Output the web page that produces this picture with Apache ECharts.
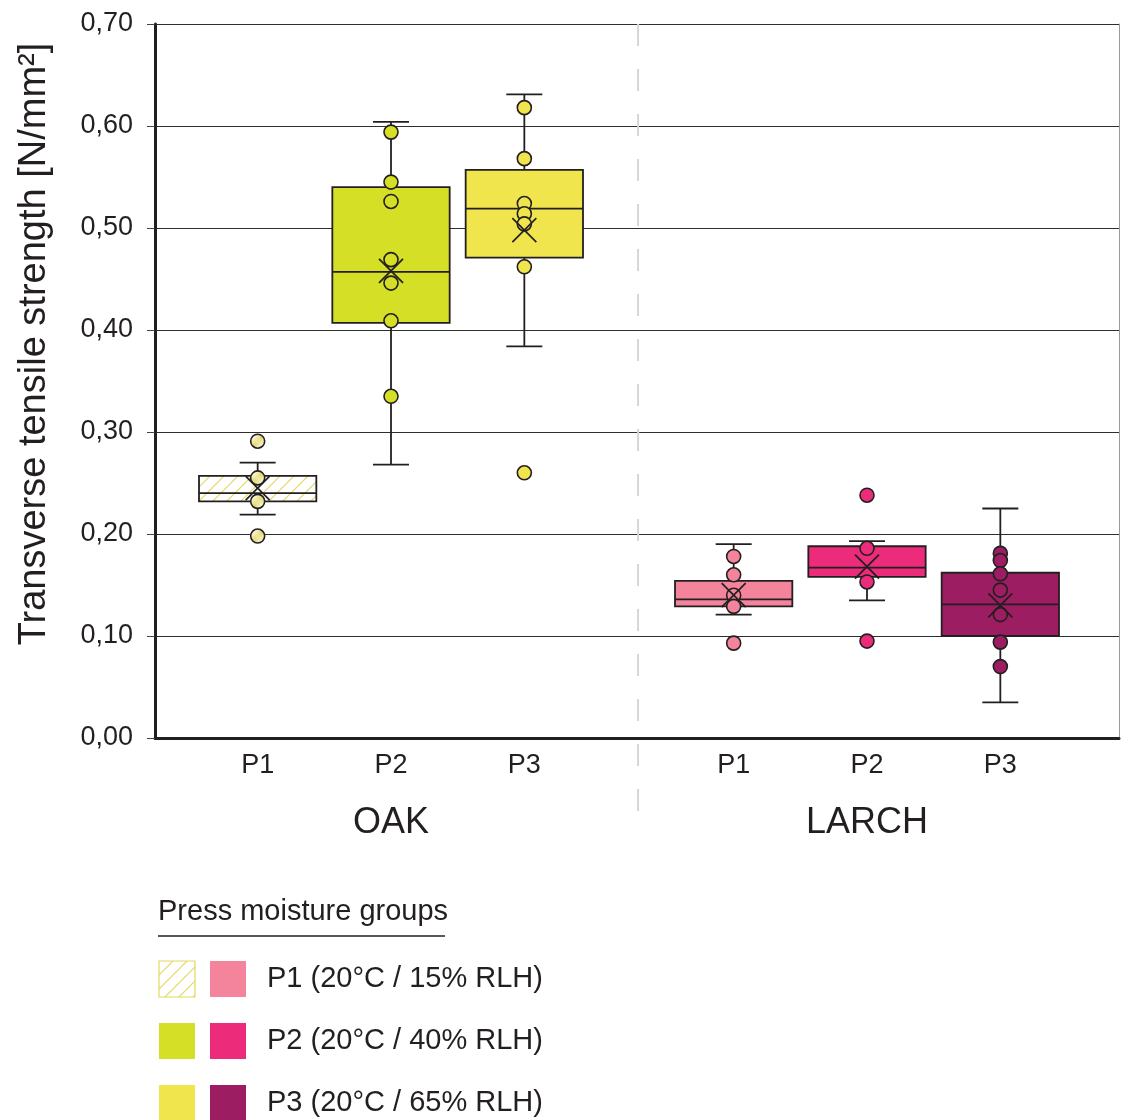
<!DOCTYPE html>
<html>
<head>
<meta charset="utf-8">
<script src="https://cdn.jsdelivr.net/npm/echarts@6/dist/echarts.min.js"></script>
<style>
  html, body { margin: 0; padding: 0; background: #fff; }
  #chart { width: 1125px; height: 1120px; }
</style>
</head>
<body>
<div id="chart"></div>
<script>
// data (N/mm²)
const woods = ['OAK', 'LARCH'];
const groups = ['P1', 'P2', 'P3'];
const legendLabels = ['P1 (20°C / 15% RLH)', 'P2 (20°C / 40% RLH)', 'P3 (20°C / 65% RLH)'];
// order: OAK P1, P2, P3, LARCH P1, P2, P3
const whiskerLow  = [0.219, 0.268, 0.384, 0.121, 0.135, 0.035];
const quart1      = [0.232, 0.407, 0.471, 0.129, 0.158, 0.100];
const median      = [0.240, 0.457, 0.519, 0.136, 0.167, 0.131];
const quart3      = [0.257, 0.540, 0.557, 0.154, 0.188, 0.162];
const whiskerHigh = [0.270, 0.604, 0.631, 0.190, 0.193, 0.225];
const mean        = [0.245, 0.458, 0.498, 0.140, 0.168, 0.130];
const points = [
  [0.291, 0.255, 0.232, 0.198],
  [0.594, 0.545, 0.526, 0.469, 0.446, 0.409, 0.335],
  [0.618, 0.568, 0.524, 0.514, 0.504, 0.462, 0.260],
  [0.178, 0.160, 0.140, 0.129, 0.093],
  [0.238, 0.186, 0.153, 0.095],
  [0.181, 0.174, 0.161, 0.145, 0.121, 0.094, 0.070]
];

const INK = '#231f20';
const FONT = '"Liberation Sans", Arial, Helvetica, sans-serif';

function hatch() {
  const c = document.createElement('canvas');
  c.width = c.height = 14;
  const g = c.getContext('2d');
  g.fillStyle = '#fff';
  g.fillRect(0, 0, 14, 14);
  g.strokeStyle = '#e3d862';
  g.lineWidth = 1.2;
  g.beginPath();
  g.moveTo(0, 14); g.lineTo(14, 0);
  g.moveTo(-7, 7); g.lineTo(7, -7);
  g.moveTo(7, 21); g.lineTo(21, 7);
  g.stroke();
  return { image: c, repeat: 'repeat' };
}
const HATCH = hatch();
const colors = [HATCH, '#d4df26', '#f0e54d', '#f3849b', '#ec2b7b', '#9c1d61'];

// x position of each box: groups 1 unit apart, LARCH shifted further right
const larchShift = 3.57;
const xPos = i => (i % 3) + 1 + Math.floor(i / 3) * larchShift;
const xs = colors.map((c, i) => xPos(i));
const separatorX = 3.853;

const boxData = xs.map((x, i) => [x, whiskerLow[i], quart1[i], median[i], quart3[i], whiskerHigh[i]]);
const meanData = xs.map((x, i) => [x, mean[i]]);
const pointData = [];
points.forEach((arr, i) => arr.forEach(v => pointData.push({ value: [xs[i], v], itemStyle: { color: colors[i] } })));

const fmtY = v => v.toFixed(2).replace('.', ',');

const chart = echarts.init(document.getElementById('chart'));
chart.setOption({
  animation: false,
  backgroundColor: '#fff',
  grid: { left: 155, right: 6, top: 24, bottom: 382 },
  xAxis: [
    {
      type: 'value', min: 0.23, max: 7.46,
      axisLine: { lineStyle: { color: INK, width: 3 } },
      axisTick: { show: false },
      splitLine: { show: false },
      axisLabel: {
        customValues: xs,
        formatter: v => groups[xs.findIndex(x => Math.abs(x - v) < 1e-6) % 3],
        fontFamily: FONT, fontSize: 27, color: INK, margin: 14
      }
    },
    {
      type: 'value', min: 0.23, max: 7.46, position: 'bottom', offset: 62,
      axisLine: { show: false }, axisTick: { show: false }, splitLine: { show: false },
      axisLabel: {
        customValues: [xs[1], xs[4]],
        formatter: v => (v < separatorX ? woods[0] : woods[1]),
        fontFamily: FONT, fontSize: 36, color: INK, margin: 5
      }
    }
  ],
  yAxis: [
    {
      type: 'value', min: 0, max: 0.7, interval: 0.1,
      axisLine: { show: true, lineStyle: { color: INK, width: 3 } },
      axisTick: { show: true, length: 8, lineStyle: { color: '#444', width: 1 } },
      axisLabel: { formatter: fmtY, fontFamily: FONT, fontSize: 27, color: INK, margin: 22 },
      splitLine: { lineStyle: { color: '#2e2e2e', width: 1.2 } }
    },
    {
      type: 'value', min: 0, max: 0.7, position: 'right',
      axisLine: { show: true, lineStyle: { color: '#9a9a9a', width: 1 } },
      axisTick: { show: false }, axisLabel: { show: false }, splitLine: { show: false }
    }
  ],
  series: [
    {
      type: 'custom',
      data: boxData,
      encode: { x: 0, y: [1, 2, 3, 4, 5] },
      z: 2,
      renderItem(params, api) {
        const i = params.dataIndex;
        const x = api.value(0);
        const lo = api.coord([x, api.value(1)]);
        const b1 = api.coord([x, api.value(2)]);
        const md = api.coord([x, api.value(3)]);
        const b3 = api.coord([x, api.value(4)]);
        const hi = api.coord([x, api.value(5)]);
        const hw = api.size([0.88, 0])[0] / 2;
        const cw = api.size([0.27, 0])[0] / 2;
        const cx = lo[0];
        const ls = { stroke: INK, lineWidth: 1.8 };
        return {
          type: 'group',
          children: [
            { type: 'line', shape: { x1: cx, y1: lo[1], x2: cx, y2: b1[1] }, style: ls },
            { type: 'line', shape: { x1: cx, y1: b3[1], x2: cx, y2: hi[1] }, style: ls },
            { type: 'line', shape: { x1: cx - cw, y1: lo[1], x2: cx + cw, y2: lo[1] }, style: ls },
            { type: 'line', shape: { x1: cx - cw, y1: hi[1], x2: cx + cw, y2: hi[1] }, style: ls },
            { type: 'rect', shape: { x: cx - hw, y: b3[1], width: 2 * hw, height: b1[1] - b3[1] },
              style: { fill: colors[i], stroke: INK, lineWidth: 1.8 } },
            { type: 'line', shape: { x1: cx - hw, y1: md[1], x2: cx + hw, y2: md[1] }, style: ls }
          ]
        };
      }
    },
    {
      type: 'scatter',
      data: pointData,
      symbol: 'circle',
      symbolSize: 14,
      z: 3,
      itemStyle: { borderColor: INK, borderWidth: 1.6, opacity: 1 }
    },
    {
      type: 'custom',
      data: meanData,
      encode: { x: 0, y: 1 },
      z: 4,
      renderItem(params, api) {
        const p = api.coord([api.value(0), api.value(1)]);
        const s = 12;
        const ls = { stroke: INK, lineWidth: 1.7 };
        return {
          type: 'group',
          children: [
            { type: 'line', shape: { x1: p[0] - s, y1: p[1] - s, x2: p[0] + s, y2: p[1] + s }, style: ls },
            { type: 'line', shape: { x1: p[0] - s, y1: p[1] + s, x2: p[0] + s, y2: p[1] - s }, style: ls }
          ]
        };
      }
    }
  ]
});

// separator, axis title and legend
const sepTop = chart.convertToPixel({ gridIndex: 0 }, [separatorX, 0.7]);
const legendTop = 961, rowStep = 62, sq = 36;
const legendItems = [];
legendLabels.forEach((label, r) => {
  const y = legendTop + r * rowStep;
  legendItems.push(
    { type: 'rect', shape: { x: 159, y: y, width: sq, height: sq },
      style: { fill: colors[r], stroke: r === 0 ? '#e3d862' : null, lineWidth: 1.2 } },
    { type: 'rect', shape: { x: 210, y: y, width: sq, height: sq }, style: { fill: colors[r + 3] } },
    { type: 'text', x: 267, y: y + sq / 2,
      style: { text: label, font: '29px ' + FONT, fill: INK, verticalAlign: 'middle' } }
  );
});

chart.setOption({
  graphic: [
    { type: 'line', z: 0, silent: true,
      shape: { x1: sepTop[0], y1: sepTop[1], x2: sepTop[0], y2: 832 },
      style: { stroke: '#d6d6d6', lineWidth: 2, lineDash: [22, 23] } },
    { type: 'text', x: 35, y: 344, rotation: Math.PI / 2,
      style: { text: 'Transverse tensile strength [N/mm²]', font: '38px ' + FONT, fill: INK,
               align: 'center', verticalAlign: 'middle' } },
    { type: 'text', x: 158, y: 926,
      style: { text: 'Press moisture groups', font: '29px ' + FONT, fill: INK, verticalAlign: 'bottom' } },
    { type: 'line', shape: { x1: 158, y1: 936, x2: 445, y2: 936 }, style: { stroke: INK, lineWidth: 1.5 } },
    ...legendItems
  ]
});
</script>
</body>
</html>
